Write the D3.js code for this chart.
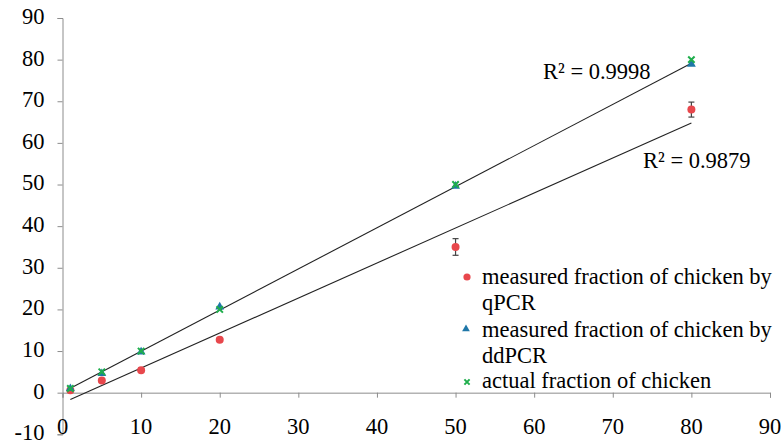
<!DOCTYPE html>
<html>
<head>
<meta charset="utf-8">
<script src="https://cdn.jsdelivr.net/npm/d3@7"></script>
<style>
    body { margin: 0; background: #fff; }
    svg { display: block; }
    svg text { font-family: "Liberation Serif", "Times New Roman", Times, "DejaVu Serif", serif; fill: #000; }
</style>
</head>
<body>
<svg width="781" height="442"></svg>
<script>
// sample fractions (% chicken)
const xValues = [1, 5, 10, 20, 50, 80];
const qpcrValues = [0.6, 2.9, 5.4, 12.7, 35.0, 68.0];
const qpcrErrors = [0.4, 0.4, 0.5, 0.4, 2.0, 1.8];
const ddpcrValues = [1.0, 4.6, 9.8, 20.6, 49.6, 78.9];
const actualValues = [1, 5, 10, 20, 50, 80];
const xTicks = [0, 10, 20, 30, 40, 50, 60, 70, 80, 90];
const yTicks = [-10, 0, 10, 20, 30, 40, 50, 60, 70, 80, 90];
const r2Labels = ["R\u00b2 = 0.9998", "R\u00b2 = 0.9879"];
const legendLines = [
    ["measured fraction of chicken by", "qPCR"],
    ["measured fraction of chicken by", "ddPCR"],
    ["actual fraction of chicken"]
];

const red = "#e8474c", blue = "#1f77a8", green = "#1fae4c", axisColour = "#8c8c8c";
const serif = "'Liberation Serif', 'Times New Roman', Times, 'DejaVu Serif', serif";
const fontSize = 22.5;

let svg = d3.select("svg");

let x = d3.scaleLinear().domain([0, 90]).range([62.5, 770]);
let y = d3.scaleLinear().domain([-10, 90]).range([434.3, 18]);

//least squares line
function fit(xs, ys) {
    let mx = d3.mean(xs), my = d3.mean(ys);
    let sxy = d3.sum(xs, (v, i) => (v - mx) * (ys[i] - my));
    let sxx = d3.sum(xs, v => (v - mx) * (v - mx));
    let b = sxy / sxx;
    return {slope: b, intercept: my - b * mx};
}

//y axis
let yAxis = svg.append("g")
    .attr("transform", "translate(" + x(0) + ",0)")
    .call(d3.axisLeft(y).tickValues(yTicks).tickSize(5).tickPadding(13).tickFormat(d => String(d)));
yAxis.attr("font-family", serif).attr("font-size", fontSize);
yAxis.selectAll("path, line").attr("stroke", axisColour);
yAxis.selectAll("text").attr("fill", "#000").attr("dy", "0.24em");

//x axis sits at y = 0, labels at the bottom
let xAxis = svg.append("g")
    .attr("transform", "translate(0," + y(0) + ")")
    .call(d3.axisBottom(x).tickValues(xTicks).tickSize(5).tickFormat(""));
xAxis.selectAll("path, line").attr("stroke", axisColour);

svg.append("g")
    .attr("font-family", serif)
    .attr("font-size", fontSize)
    .selectAll("text")
    .data(xTicks)
    .enter().append("text")
    .attr("x", d => x(d))
    .attr("y", 434)
    .attr("text-anchor", "middle")
    .text(d => d);

//trendlines
let trends = [fit(xValues, ddpcrValues), fit(xValues, qpcrValues)];
let x0 = d3.min(xValues), x1 = d3.max(xValues);
svg.append("g")
    .selectAll("line")
    .data(trends)
    .enter().append("line")
    .attr("x1", x(x0))
    .attr("x2", x(x1))
    .attr("y1", d => y(d.intercept + d.slope * x0))
    .attr("y2", d => y(d.intercept + d.slope * x1))
    .attr("stroke", "#222")
    .attr("stroke-width", 1.1);

//error bars for qPCR
let err = svg.append("g")
    .attr("stroke", "#444")
    .attr("stroke-width", 1.2)
    .selectAll("g")
    .data(xValues)
    .enter().append("g");
err.append("line")
    .attr("x1", d => x(d)).attr("x2", d => x(d))
    .attr("y1", (d, i) => y(qpcrValues[i] - qpcrErrors[i]))
    .attr("y2", (d, i) => y(qpcrValues[i] + qpcrErrors[i]));
err.selectAll(".cap")
    .data((d, i) => [[d, qpcrValues[i] - qpcrErrors[i]], [d, qpcrValues[i] + qpcrErrors[i]]])
    .enter().append("line")
    .attr("class", "cap")
    .attr("x1", d => x(d[0]) - 3).attr("x2", d => x(d[0]) + 3)
    .attr("y1", d => y(d[1])).attr("y2", d => y(d[1]));

//markers
svg.append("g")
    .selectAll("circle")
    .data(xValues)
    .enter().append("circle")
    .attr("cx", d => x(d))
    .attr("cy", (d, i) => y(qpcrValues[i]))
    .attr("r", 4)
    .attr("fill", red);

let tri = d3.symbol().type(d3.symbolTriangle).size(34);
svg.append("g")
    .selectAll("path")
    .data(xValues)
    .enter().append("path")
    .attr("d", tri)
    .attr("transform", (d, i) => "translate(" + x(d) + "," + y(ddpcrValues[i]) + ")")
    .attr("fill", blue);

function cross(sel, s) {
    sel.append("path")
        .attr("d", "M" + (-s) + "," + (-s) + "L" + s + "," + s + "M" + (-s) + "," + s + "L" + s + "," + (-s))
        .attr("stroke", green)
        .attr("stroke-width", 2)
        .attr("fill", "none");
}
svg.append("g")
    .selectAll("g")
    .data(xValues)
    .enter().append("g")
    .attr("transform", (d, i) => "translate(" + x(d) + "," + y(actualValues[i]) + ")")
    .call(cross, 3.2);

//R squared labels
let labels = svg.append("g").attr("font-family", serif).attr("font-size", fontSize);
labels.append("text").attr("x", 543).attr("y", 79).text(r2Labels[0]);
labels.append("text").attr("x", 643).attr("y", 168).text(r2Labels[1]);

//legend
let legendY = [284, 337, 388];
let legend = svg.append("g").attr("font-family", serif).attr("font-size", fontSize);
legendLines.forEach(function (lines, i) {
    let t = legend.append("text")
        .attr("x", 482)
        .attr("y", legendY[i]);
    lines.forEach(function (l, j) {
        t.append("tspan").attr("x", 482).attr("dy", j === 0 ? 0 : 26).text(l);
    });
});
legend.append("circle").attr("cx", 467).attr("cy", 277).attr("r", 3.6).attr("fill", red);
legend.append("path").attr("d", d3.symbol().type(d3.symbolTriangle).size(26))
    .attr("transform", "translate(466,329)").attr("fill", blue);
legend.append("g").attr("transform", "translate(467,382)").call(cross, 2.6);
</script>
</body>
</html>
